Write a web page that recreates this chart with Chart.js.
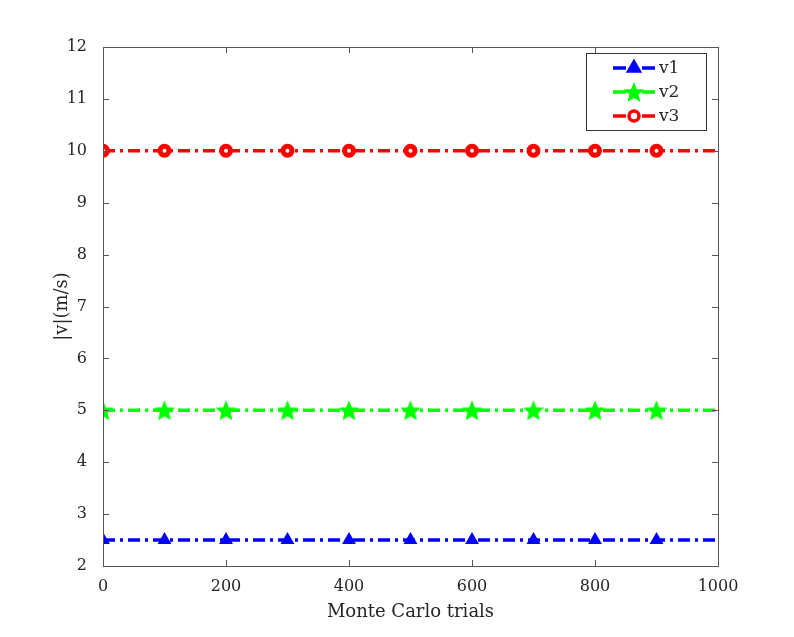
<!DOCTYPE html>
<html>
<head>
<meta charset="utf-8">
<script src="https://cdn.jsdelivr.net/npm/chart.js@4.4.0/dist/chart.umd.min.js"></script>
<style>
html, body { margin: 0; background: #fff; }
#wrap { width: 794px; height: 637px; }
</style>
</head>
<body>
<div id="wrap"><canvas id="c"></canvas></div>
<script>
// data
const trials = [0, 100, 200, 300, 400, 500, 600, 700, 800, 900, 1000];
const v1 = [2.5, 2.5, 2.5, 2.5, 2.5, 2.5, 2.5, 2.5, 2.5, 2.5, 2.5];
const v2 = [5, 5, 5, 5, 5, 5, 5, 5, 5, 5, 5];
const v3 = [10, 10, 10, 10, 10, 10, 10, 10, 10, 10, 10];
const seriesNames = ['v1', 'v2', 'v3'];
const xTicks = [0, 200, 400, 600, 800, 1000];

const FONT = "'DejaVu Serif', 'Liberation Serif', serif";
const TXT = '#262626';

// filled pentagram for v2 markers
function makeStar(color) {
    const s = 20, c = document.createElement('canvas');
    c.width = s; c.height = s;
    const g = c.getContext('2d');
    g.beginPath();
    for (let i = 0; i < 10; i++) {
        const r = i % 2 === 0 ? 9 : 4;
        const a = -Math.PI / 2 + i * Math.PI / 5;
        const px = s / 2 + r * Math.cos(a), py = s / 2 + 1 + r * Math.sin(a);
        i === 0 ? g.moveTo(px, py) : g.lineTo(px, py);
    }
    g.closePath();
    g.fillStyle = color;
    g.fill();
    g.lineWidth = 1.5;
    g.strokeStyle = color;
    g.stroke();
    return c;
}
const starImg = makeStar('#00ff00');

function points(arr) {
    return trials.map((t, i) => ({ x: t, y: arr[i] }));
}
// markers on every point except the last one (x = 1000)
const markRadius = r => ctx => ctx.dataIndex < trials.length - 1 ? r : 0;

const dash = [12, 5, 3, 5];

// box with inward ticks, like MATLAB axes
const boxPlugin = {
    id: 'box',
    afterDatasetsDraw(chart) {
        const { ctx, chartArea: a, scales } = chart;
        ctx.save();
        ctx.strokeStyle = '#555';
        ctx.lineWidth = 1;
        ctx.strokeRect(a.left + 0.5, a.top + 0.5, a.right - a.left, a.bottom - a.top);
        const len = 6;
        ctx.beginPath();
        scales.x.ticks.forEach(t => {
            const px = Math.round(scales.x.getPixelForValue(t.value)) + 0.5;
            ctx.moveTo(px, a.bottom); ctx.lineTo(px, a.bottom - len);
            ctx.moveTo(px, a.top); ctx.lineTo(px, a.top + len);
        });
        scales.y.ticks.forEach(t => {
            const py = Math.round(scales.y.getPixelForValue(t.value)) + 0.5;
            ctx.moveTo(a.left, py); ctx.lineTo(a.left + len, py);
            ctx.moveTo(a.right, py); ctx.lineTo(a.right - len, py);
        });
        ctx.stroke();
        ctx.restore();
    }
};

// legend drawn inside the axes, top right
const legendPlugin = {
    id: 'boxLegend',
    afterDraw(chart) {
        const ctx = chart.ctx;
        const bx = 586, by = 53, bw = 120, bh = 77;
        ctx.save();
        ctx.fillStyle = '#fff';
        ctx.fillRect(bx, by, bw, bh);
        ctx.strokeStyle = '#333';
        ctx.lineWidth = 1;
        ctx.strokeRect(bx + 0.5, by + 0.5, bw, bh);
        const rows = [68, 92, 116];
        chart.data.datasets.forEach((ds, i) => {
            const y = rows[i];
            ctx.strokeStyle = ds.borderColor;
            ctx.lineWidth = ds.borderWidth;
            ctx.setLineDash([]);
            ctx.beginPath();
            ctx.moveTo(613, y); ctx.lineTo(626, y);
            ctx.moveTo(642, y); ctx.lineTo(655, y);
            ctx.stroke();
            ctx.fillStyle = ds.pointBackgroundColor;
            ctx.strokeStyle = ds.pointBorderColor;
            Chart.helpers.drawPoint(ctx, {
                pointStyle: ds.pointStyle,
                radius: ds.legendRadius,
                borderWidth: ds.pointBorderWidth,
                rotation: 0
            }, 634, y);
            ctx.fillStyle = TXT;
            ctx.font = '17px ' + FONT;
            ctx.textBaseline = 'middle';
            ctx.fillText(seriesNames[i], 659, y + 1);
        });
        ctx.restore();
    }
};

new Chart(document.getElementById('c'), {
    type: 'line',
    data: {
        datasets: [
            {
                label: seriesNames[0],
                data: points(v1),
                borderColor: '#0000ff',
                borderWidth: 3.5,
                borderDash: dash,
                pointStyle: 'triangle',
                pointRadius: markRadius(6),
                legendRadius: 6,
                pointBackgroundColor: '#0000ff',
                pointBorderColor: '#0000ff',
                pointBorderWidth: 2
            },
            {
                label: seriesNames[1],
                data: points(v2),
                borderColor: '#00ff00',
                borderWidth: 3.5,
                borderDash: dash,
                pointStyle: starImg,
                pointRadius: markRadius(9),
                legendRadius: 9,
                pointBackgroundColor: '#00ff00',
                pointBorderColor: '#00ff00',
                pointBorderWidth: 1
            },
            {
                label: seriesNames[2],
                data: points(v3),
                borderColor: '#ff0000',
                borderWidth: 3.5,
                borderDash: dash,
                pointStyle: 'circle',
                pointRadius: markRadius(4.5),
                legendRadius: 5,
                pointBackgroundColor: '#ffffff',
                pointBorderColor: '#ff0000',
                pointBorderWidth: 5
            }
        ]
    },
    options: {
        responsive: true,
        maintainAspectRatio: false,
        animation: false,
        layout: { padding: { left: 48, top: 47, right: 76, bottom: 10 } },
        plugins: {
            legend: { display: false },
            tooltip: { enabled: false }
        },
        scales: {
            x: {
                type: 'linear',
                min: 0,
                max: 1000,
                afterBuildTicks: s => { s.ticks = xTicks.map(v => ({ value: v })); },
                afterFit: s => { s.height = 61; },
                grid: { display: false },
                border: { display: false },
                ticks: { color: TXT, font: { family: FONT, size: 16 }, padding: 3, maxRotation: 0, callback: v => String(v) },
                title: { display: true, text: 'Monte Carlo trials', color: TXT, font: { family: FONT, size: 18 }, padding: { top: 4 } }
            },
            y: {
                min: 2,
                max: 12,
                afterFit: s => { s.width = 55; },
                grid: { display: false },
                border: { display: false },
                ticks: { stepSize: 1, color: TXT, font: { family: FONT, size: 16 }, padding: 8 },
                title: { display: true, text: '|v|(m/s)', color: TXT, font: { family: FONT, size: 18 }, padding: { bottom: 4 } }
            }
        }
    },
    plugins: [boxPlugin, legendPlugin]
});
</script>
</body>
</html>
